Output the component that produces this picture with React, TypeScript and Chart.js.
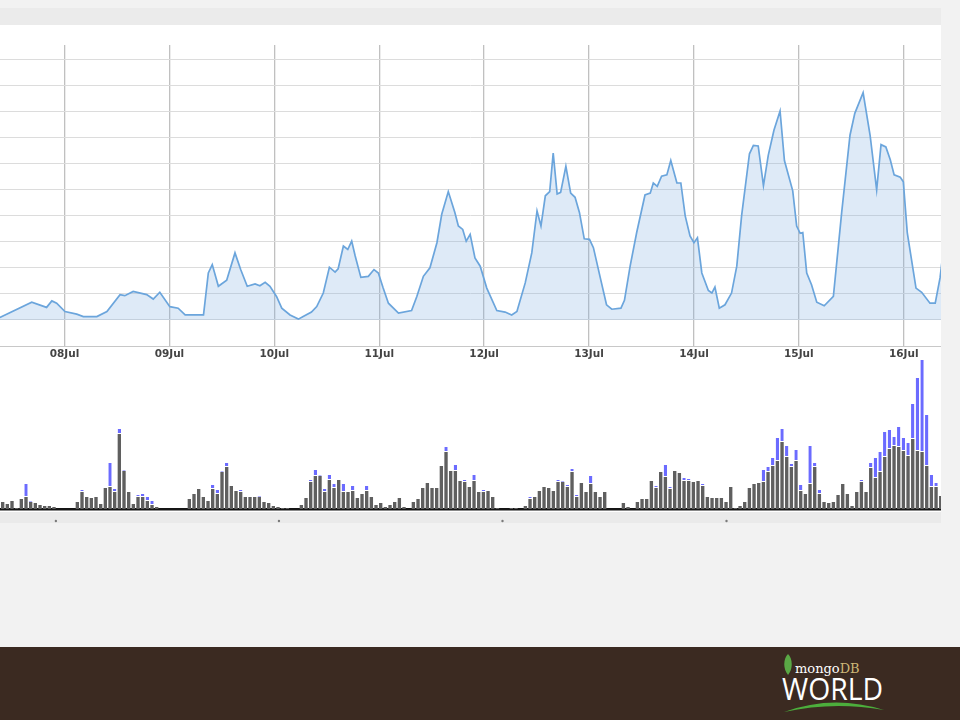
import React, { useEffect, useRef } from 'react';
import { Chart, registerables } from 'chart.js';

Chart.register(...registerables);

// ---- Top chart: hours since 08Jul 00:00 and values ----
const lineHours = [
  -14.8, -7.5, -4.1, -2.9, -1.8, 0.1, 2.8, 4.3, 7.4, 9.7, 12.7, 13.8, 15.7, 18.8, 20.3, 21.8,
  24.1, 26.0, 27.6, 31.8, 32.9, 33.8, 35.2, 37.1, 39.0, 40.3, 41.8, 43.6, 44.7, 45.9, 47.0,
  48.5, 49.7, 51.6, 53.5, 54.6, 56.5, 57.7, 59.2, 60.6, 61.9, 62.6, 63.8, 64.8, 65.7, 66.5,
  67.8, 69.5, 70.8, 71.8, 72.9, 74.1, 76.4, 79.4, 80.6, 82.1, 83.6, 85.2, 86.3, 87.8, 89.3,
  90.1, 91.1, 91.9, 92.8, 93.9, 95.1, 96.6, 98.9, 100.8, 102.3, 103.5, 105.4, 106.9, 108.1,
  109.0, 110.0, 111.0, 111.8, 112.7, 113.5, 114.7, 115.8, 116.8, 117.8, 118.9, 120.1, 121.0,
  122.5, 124.0, 125.2, 127.3, 128.1, 129.4, 130.9, 132.8, 134.0, 134.7, 135.6, 136.6, 137.8,
  138.7, 140.1, 141.0, 142.0, 143.1, 144.0, 144.8, 145.8, 147.3, 148.1, 148.8, 149.8, 151.1,
  152.6, 153.8, 154.9, 156.7, 157.6, 158.7, 159.9, 161.0, 162.3, 163.7, 164.7, 166.6, 167.5,
  168.3, 168.9, 169.8, 170.9, 172.1, 173.8, 175.9, 177.8, 179.7, 180.8, 182.7, 184.3, 185.8,
  186.8, 187.9, 188.9, 189.8, 191.2, 191.9, 192.8, 194.8, 196.1, 198.0, 199.2, 200.3, 200.9,
];
const lineValues = [
  0.09, 0.68, 0.48, 0.73, 0.64, 0.32, 0.22, 0.13, 0.13, 0.32, 0.97, 0.93, 1.09, 0.97, 0.8, 1.06,
  0.51, 0.45, 0.19, 0.19, 1.8, 2.12, 1.29, 1.52, 2.57, 1.93, 1.29, 1.38, 1.31, 1.44, 1.29,
  0.9, 0.45, 0.19, 0.03, 0.13, 0.3, 0.51, 1.03, 2.02, 1.83, 1.96, 2.83, 2.7, 3.02, 2.45,
  1.63, 1.67, 1.93, 1.8, 1.22, 0.64, 0.26, 0.36, 0.9, 1.67, 2.0, 2.96, 4.05, 4.92, 4.12,
  3.6, 3.47, 3.02, 3.28, 2.38, 2.06, 1.22, 0.36, 0.3, 0.19, 0.32, 1.42, 2.57, 4.18,
  3.6, 4.76, 4.92, 6.4, 4.83, 4.89, 5.89, 4.86, 4.7, 4.12, 3.11, 3.09, 2.77,
  1.67, 0.58, 0.41, 0.45, 0.75, 2.06, 3.35, 4.79, 4.86, 5.25, 5.12, 5.51, 5.56,
  6.11, 5.25, 5.25, 3.99, 3.22, 2.96, 3.15, 1.8, 1.13, 1.03, 1.26, 0.45, 0.58,
  1.03, 2.06, 3.99, 6.37, 6.69, 6.67, 5.15, 6.31, 7.27, 8.01, 6.11, 4.95, 3.6,
  3.32, 3.35, 1.8, 1.35, 0.68, 0.54, 0.9, 4.12, 7.08, 7.92, 8.71, 7.08, 4.99,
  6.72, 6.63, 6.15, 5.56, 5.47, 5.3, 3.35, 1.22, 1.06, 0.64, 0.64, 1.61, 2.45,
];
const dayTickHours = [0, 24, 48, 72, 96, 120, 144, 168, 192];
const dayLabels = ['08Jul', '09Jul', '10Jul', '11Jul', '12Jul', '13Jul', '14Jul', '15Jul', '16Jul'];
const gridValues = [-1, 0, 1, 2, 3, 4, 5, 6, 7, 8, 9, 10];

// ---- Bottom chart: hourly bars (grey base + blue on top) ----
const greyBars = [
  7, 5, 8, 1, 10, 12, 7, 6, 4, 3,
  3, 2, 0, 0, 0, 0, 7, 17, 12, 11,
  12, 5, 21, 22, 17, 75, 38, 17, 5, 12,
  12, 8, 4, 2, 0, 0, 0, 0, 0, 0,
  10, 15, 20, 12, 8, 20, 15, 37, 42, 23,
  18, 17, 12, 12, 12, 12, 7, 6, 3, 2,
  1, 1, 0, 0, 4, 11, 27, 33, 33, 17,
  29, 21, 29, 17, 17, 18, 11, 15, 18, 12,
  4, 6, 2, 4, 7, 11, 2, 0, 7, 10,
  21, 26, 21, 21, 43, 57, 38, 38, 28, 27,
  22, 28, 17, 17, 18, 12, 1, 0, 0, 1,
  1, 0, 3, 10, 12, 18, 22, 21, 18, 27,
  27, 22, 37, 12, 26, 17, 25, 17, 12, 17,
  0, 0, 0, 6, 2, 0, 7, 10, 10, 28,
  21, 37, 32, 20, 38, 36, 28, 28, 27, 28,
  23, 12, 11, 11, 11, 7, 22, 1, 3, 7,
  21, 25, 26, 27, 37, 43, 48, 67, 52, 42,
  48, 18, 15, 25, 42, 15, 7, 6, 7, 14,
  25, 15, 3, 17, 27, 17, 41, 31, 37, 52,
  60, 63, 62, 58, 53, 70, 58, 57, 43, 22,
  22, 13,
];
const blueBars = [
  0, 0, 0, 0, 0, 13, 1, 0, 0, 0,
  0, 0, 0, 0, 0, 0, 0, 2, 0, 0,
  0, 0, 0, 24, 3, 5, 1, 0, 0, 2,
  3, 4, 4, 0, 0, 0, 0, 0, 0, 0,
  0, 0, 0, 0, 0, 4, 4, 1, 4, 0,
  0, 2, 0, 0, 0, 1, 0, 0, 0, 0,
  0, 0, 0, 0, 0, 0, 2, 6, 1, 3,
  5, 4, 0, 8, 0, 5, 0, 0, 5, 0,
  0, 0, 0, 0, 0, 0, 0, 0, 0, 0,
  0, 0, 0, 0, 0, 5, 0, 6, 0, 2,
  0, 6, 0, 2, 0, 0, 0, 0, 0, 0,
  0, 0, 0, 2, 0, 0, 0, 0, 0, 2,
  1, 2, 3, 2, 0, 0, 8, 0, 0, 0,
  0, 0, 0, 0, 0, 0, 0, 0, 0, 0,
  2, 0, 12, 2, 0, 0, 3, 2, 0, 0,
  2, 0, 0, 0, 0, 0, 0, 0, 0, 0,
  0, 0, 0, 12, 5, 8, 23, 13, 11, 3,
  11, 6, 0, 38, 4, 4, 0, 0, 0, 0,
  0, 0, 0, 0, 2, 0, 5, 20, 20, 25,
  19, 9, 20, 13, 13, 35, 73, 92, 51, 12,
  4, 0,
];
const bottomTickHours = [11.4, 59.2, 107.1, 155.1];

export default function App() {
  const topRef = useRef<HTMLCanvasElement>(null);
  const botRef = useRef<HTMLCanvasElement>(null);

  useEffect(() => {
    const top = new Chart(topRef.current as HTMLCanvasElement, {
      type: 'line',
      data: {
        datasets: [
          {
            data: lineHours.map((h, i) => ({ x: h, y: lineValues[i] })),
            borderColor: '#6ba5dc',
            borderWidth: 1.7,
            backgroundColor: 'rgba(125,172,225,0.25)',
            fill: 'origin',
            pointRadius: 0,
            tension: 0,
          },
        ],
      },
      options: {
        animation: false,
        responsive: false,
        maintainAspectRatio: false,
        events: [],
        layout: { padding: 0 },
        plugins: { legend: { display: false }, tooltip: { enabled: false } },
        scales: {
          x: {
            type: 'linear',
            min: -14.76,
            max: 200.52,
            afterBuildTicks: (s: any) => {
              s.ticks = dayTickHours.map((v) => ({ value: v }));
            },
            afterFit: (s: any) => {
              s.height = 16;
            },
            ticks: {
              autoSkip: false,
              maxRotation: 0,
              padding: 2,
              color: '#444',
              font: { family: 'DejaVu Sans', size: 10.5, weight: 'bold' },
              callback: (_v: any, i: number) => dayLabels[i],
            },
            grid: { color: '#c0c0c0', lineWidth: 1.3, drawTicks: false },
            border: { display: true, color: '#c8c8c8', width: 1 },
          },
          y: {
            type: 'linear',
            min: -1,
            max: 10.54,
            afterBuildTicks: (s: any) => {
              s.ticks = gridValues.map((v) => ({ value: v }));
            },
            afterFit: (s: any) => {
              s.width = 0;
            },
            ticks: { display: false },
            grid: { color: '#dcdcdc', lineWidth: 1, drawTicks: false },
            border: { display: false },
          },
        },
      } as any,
    });

    const tickDots = {
      id: 'tickDots',
      afterDraw(chart: any) {
        const { ctx } = chart;
        const x = chart.scales.x;
        ctx.save();
        ctx.fillStyle = '#7a7a7a';
        bottomTickHours.forEach((v) => {
          const px = x.getPixelForValue(v);
          ctx.beginPath();
          ctx.arc(px, 166, 1.2, 0, Math.PI * 2);
          ctx.fill();
        });
        ctx.restore();
      },
    };

    const bot = new Chart(botRef.current as HTMLCanvasElement, {
      type: 'bar',
      data: {
        datasets: [
          {
            data: greyBars.map((v, i) => ({ x: i, y: v })),
            backgroundColor: '#5f5f5f',
            borderWidth: 0,
            barPercentage: 0.72,
            categoryPercentage: 1,
          },
          {
            data: blueBars.map((v, i) => ({ x: i, y: v })),
            backgroundColor: '#6b6bff',
            borderColor: '#ffffff',
            borderWidth: { top: 0, left: 0, right: 0, bottom: 1 },
            borderSkipped: false,
            barPercentage: 0.72,
            categoryPercentage: 1,
          },
        ],
      },
      options: {
        animation: false,
        responsive: false,
        maintainAspectRatio: false,
        events: [],
        layout: { padding: 0 },
        plugins: { legend: { display: false }, tooltip: { enabled: false } },
        scales: {
          x: {
            type: 'linear',
            stacked: true,
            offset: false,
            min: -0.572,
            max: 201.06,
            afterFit: (s: any) => {
              s.height = 16;
            },
            ticks: { display: false },
            grid: { display: false, offset: false },
            border: { display: true, color: '#151515', width: 2.5 },
          },
          y: { stacked: true, min: 0, max: 154, display: false },
        },
      } as any,
      plugins: [tickDots],
    });

    return () => {
      top.destroy();
      bot.destroy();
    };
  }, []);

  return (
    <div
      style={{
        position: 'absolute',
        left: 0,
        top: 0,
        width: 960,
        height: 720,
        overflow: 'hidden',
        background: '#f2f2f2',
      }}
    >
      <div style={{ position: 'absolute', left: 0, top: 8, width: 941, height: 17, background: '#ebebeb' }} />
      <div style={{ position: 'absolute', left: 0, top: 25, width: 941, height: 487, background: '#ffffff' }} />
      <div style={{ position: 'absolute', left: 0, top: 512, width: 941, height: 11, background: '#eaeaea' }} />
      <canvas
        ref={topRef}
        width={941}
        height={317}
        style={{ position: 'absolute', left: 0, top: 45, width: 941, height: 317 }}
      />
      <canvas
        ref={botRef}
        width={941}
        height={170}
        style={{ position: 'absolute', left: 0, top: 355, width: 941, height: 170 }}
      />
      <div style={{ position: 'absolute', left: 0, top: 647, width: 960, height: 73, background: '#3b2a21' }} />
      <svg
        width={130}
        height={72}
        style={{ position: 'absolute', left: 775, top: 648 }}
        viewBox="0 0 130 72"
      >
        <path d="M13 6 C8 11 8 21 13 27 C18 21 18 11 13 6 Z" fill="#5aa845" />
        <text x={20} y={25} fontFamily="DejaVu Serif" fontSize={13} fill="#ffffff">
          mongo<tspan fill="#cdb877">DB</tspan>
        </text>
        <text
          x={7}
          y={52}
          fontFamily="Open Sans"
          fontSize={31}
          fill="#ffffff"
          textLength={101}
          lengthAdjust="spacingAndGlyphs"
        >
          WORLD
        </text>
        <path d="M9 64 Q58 46 109 62 Q58 53 9 64 Z" fill="#4cae3c" />
      </svg>
    </div>
  );
}
